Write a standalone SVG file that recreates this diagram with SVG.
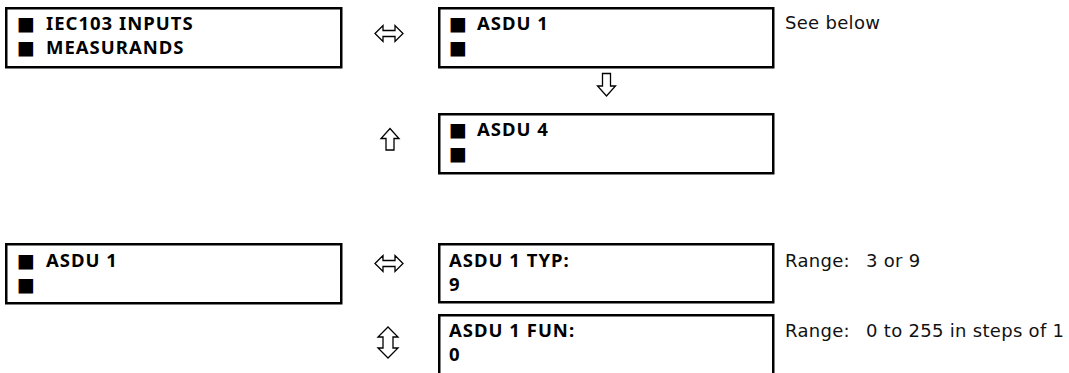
<svg xmlns="http://www.w3.org/2000/svg" width="1069" height="373" viewBox="0 0 1069 373">
<style>
.box{fill:#fff;stroke:#000;stroke-width:2.5}
.lbl{font-family:"Noto Sans","Open Sans",sans-serif;font-weight:700;font-size:18.5px;letter-spacing:1px;fill:#000}
.bul{font-family:"DejaVu Sans",sans-serif;font-weight:400;font-size:19px;letter-spacing:0}
.note{font-family:"DejaVu Sans",sans-serif;font-size:18px;letter-spacing:0.3px;fill:#111}
.arr{fill:#fff;stroke:#000;stroke-width:1.3;stroke-linejoin:miter}
</style>
<rect width="1069" height="373" fill="#fff"/>
<g id="node-iec103-measurands">
<rect class="box" x="6.25" y="8.25" width="335" height="59"/>
<text class="lbl" y="29.5"><tspan class="bul" x="17">■</tspan><tspan x="46">IEC103 INPUTS</tspan></text>
<text class="lbl" y="53.5"><tspan class="bul" x="17">■</tspan><tspan x="46">MEASURANDS</tspan></text>
</g>
<g id="node-asdu1-menu">
<rect class="box" x="439.25" y="8.25" width="334" height="59"/>
<text class="lbl" y="29.5"><tspan class="bul" x="449">■</tspan><tspan x="477">ASDU 1</tspan></text>
<text class="lbl" y="53.5"><tspan class="bul" x="449">■</tspan></text>
</g>
<g id="node-asdu4-menu">
<rect class="box" x="439.25" y="114.25" width="334" height="59"/>
<text class="lbl" y="135.5"><tspan class="bul" x="449">■</tspan><tspan x="477">ASDU 4</tspan></text>
<text class="lbl" y="159.5"><tspan class="bul" x="449">■</tspan></text>
</g>
<g id="note-see-below">
<text class="note" x="785" y="29">See below</text>
</g>
<g id="node-asdu1">
<rect class="box" x="6.25" y="244.25" width="335" height="59"/>
<text class="lbl" y="266.5"><tspan class="bul" x="17">■</tspan><tspan x="46">ASDU 1</tspan></text>
<text class="lbl" y="290.5"><tspan class="bul" x="17">■</tspan></text>
</g>
<g id="node-asdu1-typ">
<rect class="box" x="439.25" y="244.25" width="334" height="58"/>
<text class="lbl" x="449" y="266.5">ASDU 1 TYP:</text>
<text class="lbl" x="449" y="290.5">9</text>
</g>
<g id="node-asdu1-fun">
<rect class="box" x="439.25" y="315.25" width="334" height="80"/>
<text class="lbl" x="449" y="337">ASDU 1 FUN:</text>
<text class="lbl" x="449" y="361">0</text>
</g>
<g id="note-typ-range">
<text class="note" x="785" y="266.5">Range:</text>
<text class="note" x="866" y="266.5">3 or 9</text>
</g>
<g id="note-fun-range">
<text class="note" x="785" y="337">Range:</text>
<text class="note" x="866" y="337">0 to 255 in steps of 1</text>
</g>
<g id="connectors">
<path class="arr" d="M375,33.5 L383,25.5 L383,30.5 L395,30.5 L395,25.5 L403,33.5 L395,41.5 L395,36.5 L383,36.5 L383,41.5 Z"/>
<path class="arr" d="M602.5,73.5 L610.5,73.5 L610.5,86 L615.5,86 L606.5,96 L597.5,86 L602.5,86 Z"/>
<path class="arr" d="M390,128.5 L399,138.5 L394,138.5 L394,150 L386,150 L386,138.5 L381,138.5 Z"/>
<path class="arr" d="M375,263.5 L383,255.5 L383,260.5 L395,260.5 L395,255.5 L403,263.5 L395,271.5 L395,266.5 L383,266.5 L383,271.5 Z"/>
<path class="arr" d="M388,327 L398,337 L393,337 L393,348 L398,348 L388,358 L378,348 L383,348 L383,337 L378,337 Z"/>
</g>
</svg>
